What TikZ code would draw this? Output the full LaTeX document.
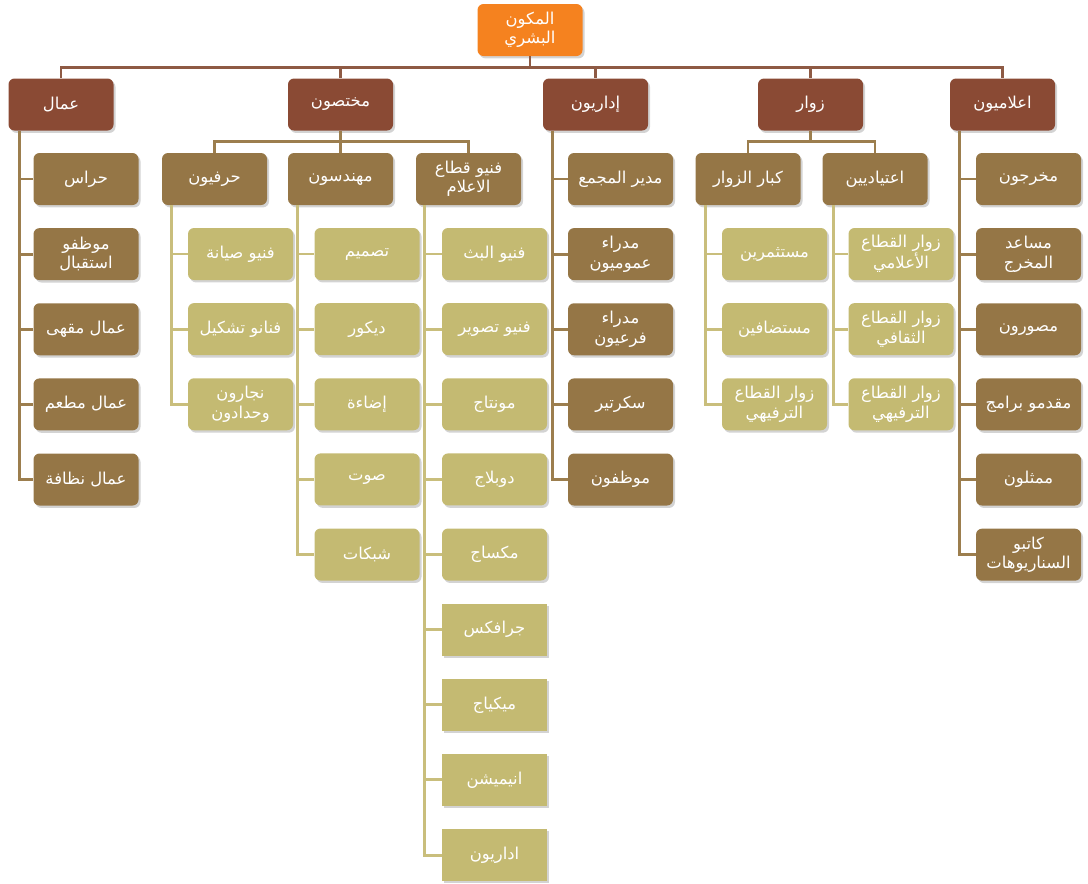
\documentclass[tikz,border=0pt]{standalone}
\usepackage{fontspec}
\newfontfamily\arabicfont[Script=Arabic]{DejaVu Sans}
\TeXXeTstate=1
\usetikzlibrary{
  chains,
  positioning,
  shadows,
}
\newcommand{\AR}[1]{\beginR#1\endR}
\definecolor{toporange}{HTML}{F5821F}
\definecolor{grpbrown}{HTML}{8A4A34}
\definecolor{subbrown}{HTML}{957646}
\definecolor{leafolive}{HTML}{C4BA72}
\definecolor{rootline}{HTML}{8E5A44}
\definecolor{subline}{HTML}{9C7E4E}
\definecolor{leafline}{HTML}{C9BE7C}

\begin{document}
\begin{tikzpicture}[
  x=0.75pt, y=-0.75pt,
  font=\arabicfont\fontsize{12.3}{14.5}\selectfont,
  box/.style={
     rectangle,
     rounded corners=4.5pt,
     text=white,
     align=center,
     inner sep=2pt,
     minimum width=78.75pt,
     minimum height=39pt,
     drop shadow={shadow xshift=1.5pt, shadow yshift=-1.8pt, opacity=0.35},
  },
  topbox/.style={box, fill=toporange},
  grpbox/.style={box, fill=grpbrown},
  subbox/.style={box, fill=subbrown},
  leafbox/.style={box, fill=leafolive},
  flatbox/.style={sharp corners},
  rootln/.style={draw=rootline, line width=2.2pt},
  subln/.style={draw=subline, line width=2.2pt},
  leafln/.style={draw=leafline, line width=2.2pt},
  node distance=16.95pt,
]
   \useasboundingbox (0,0) rectangle (1088,883);

   % root and first level
   \node[topbox] (top) at (530,30) {\AR{المكون}\\\AR{البشري}};
   \node[grpbox] (amal)  at (61,104.5)   {\AR{عمال}};
   \node[grpbox] (mukh)  at (340.5,104.5) {\AR{مختصون}};
   \node[grpbox] (idari) at (595.5,104.5) {\AR{إداريون}};
   \node[grpbox] (zuwar) at (810.5,104.5) {\AR{زوار}};
   \node[grpbox] (ilam)  at (1002.5,104.5) {\AR{اعلاميون}};

   % second level heads
   \node[subbox] (hirafi) at (214.5,179) {\AR{حرفيون}};
   \node[subbox] (muhand) at (340.5,179) {\AR{مهندسون}};
   \node[subbox] (fanni)  at (468.5,179) {\AR{فنيو قطاع}\\\AR{الاعلام}};
   \node[subbox] (kibar)  at (748,179)   {\AR{كبار الزوار}};
   \node[subbox] (itiyad) at (875,179)   {\AR{اعتياديين}};

   % columns
   \begin{scope}[start chain=amalc going below]
   \node[subbox,on chain] (amal1) at (86,179) {\AR{حراس}};
   \node[subbox,on chain] (amal2) {\AR{موظفو}\\\AR{استقبال}};
   \node[subbox,on chain] (amal3) {\AR{عمال مقهى}};
   \node[subbox,on chain] (amal4) {\AR{عمال مطعم}};
   \node[subbox,on chain] (amal5) {\AR{عمال نظافة}};
   \end{scope}

   \begin{scope}[start chain=idaric going below]
   \node[subbox,on chain] (idari1) at (620.5,179) {\AR{مدير المجمع}};
   \node[subbox,on chain] (idari2) {\AR{مدراء}\\\AR{عموميون}};
   \node[subbox,on chain] (idari3) {\AR{مدراء}\\\AR{فرعيون}};
   \node[subbox,on chain] (idari4) {\AR{سكرتير}};
   \node[subbox,on chain] (idari5) {\AR{موظفون}};
   \end{scope}

   \begin{scope}[start chain=ilamc going below]
   \node[subbox,on chain] (ilam1) at (1028.5,179) {\AR{مخرجون}};
   \node[subbox,on chain] (ilam2) {\AR{مساعد}\\\AR{المخرج}};
   \node[subbox,on chain] (ilam3) {\AR{مصورون}};
   \node[subbox,on chain] (ilam4) {\AR{مقدمو برامج}};
   \node[subbox,on chain] (ilam5) {\AR{ممثلون}};
   \node[subbox,on chain] (ilam6) {\AR{كاتبو}\\\AR{السناريوهات}};
   \end{scope}

   \begin{scope}[start chain=hirafic going below]
   \node[leafbox,on chain] (hirafi1) at (240.5,254) {\AR{فنيو صيانة}};
   \node[leafbox,on chain] (hirafi2) {\AR{فنانو تشكيل}};
   \node[leafbox,on chain] (hirafi3) {\AR{نجارون}\\\AR{وحدادون}};
   \end{scope}

   \begin{scope}[start chain=muhandc going below]
   \node[leafbox,on chain] (muhand1) at (367,254) {\AR{تصميم}};
   \node[leafbox,on chain] (muhand2) {\AR{ديكور}};
   \node[leafbox,on chain] (muhand3) {\AR{إضاءة}};
   \node[leafbox,on chain] (muhand4) {\AR{صوت}};
   \node[leafbox,on chain] (muhand5) {\AR{شبكات}};
   \end{scope}

   \begin{scope}[start chain=fannic going below]
   \node[leafbox,on chain] (fanni1) at (494.5,254) {\AR{فنيو البث}};
   \node[leafbox,on chain] (fanni2) {\AR{فنيو تصوير}};
   \node[leafbox,on chain] (fanni3) {\AR{مونتاج}};
   \node[leafbox,on chain] (fanni4) {\AR{دوبلاج}};
   \node[leafbox,on chain] (fanni5) {\AR{مكساج}};
   \node[leafbox,flatbox,on chain] (fanni6) {\AR{جرافكس}};
   \node[leafbox,flatbox,on chain] (fanni7) {\AR{ميكياج}};
   \node[leafbox,flatbox,on chain] (fanni8) {\AR{انيميشن}};
   \node[leafbox,flatbox,on chain] (fanni9) {\AR{اداريون}};
   \end{scope}

   \begin{scope}[start chain=kibarc going below]
   \node[leafbox,on chain] (kibar1) at (774.5,254) {\AR{مستثمرين}};
   \node[leafbox,on chain] (kibar2) {\AR{مستضافين}};
   \node[leafbox,on chain] (kibar3) {\AR{زوار القطاع}\\\AR{الترفيهي}};
   \end{scope}

   \begin{scope}[start chain=itiyadc going below]
   \node[leafbox,on chain] (itiyad1) at (901,254) {\AR{زوار القطاع}\\\AR{الأعلامي}};
   \node[leafbox,on chain] (itiyad2) {\AR{زوار القطاع}\\\AR{الثقافي}};
   \node[leafbox,on chain] (itiyad3) {\AR{زوار القطاع}\\\AR{الترفيهي}};
   \end{scope}

   % buses
   \draw[rootln] (top.south) -- ++(0,11) -| (amal.north)
                 (top.south) -- ++(0,11) -| (mukh.north)
                 (top.south) -- ++(0,11) -| (idari.north)
                 (top.south) -- ++(0,11) -| (zuwar.north)
                 (top.south) -- ++(0,11) -| (ilam.north);
   \draw[subln] (mukh.south) -- ++(0,11) -| (hirafi.north)
                (mukh.south) -- (muhand.north)
                (mukh.south) -- ++(0,11) -| (fanni.north);
   \draw[subln] (zuwar.south) -- ++(0,11) -| (kibar.north)
                (zuwar.south) -- ++(0,11) -| (itiyad.north);

   % side lines
   \path (amal.south west) ++(11,0) coordinate (amalv);
   \path (idari.south west) ++(10,0) coordinate (idariv);
   \path (ilam.south west) ++(10,0) coordinate (ilamv);
   \draw[subln] (amalv) |- (amal1.west) (amalv) |- (amal2.west)
                (amalv) |- (amal3.west) (amalv) |- (amal4.west)
                (amalv) |- (amal5.west);
   \draw[subln] (idariv) |- (idari1.west) (idariv) |- (idari2.west)
                (idariv) |- (idari3.west) (idariv) |- (idari4.west)
                (idariv) |- (idari5.west);
   \draw[subln] (ilamv) |- (ilam1.west) (ilamv) |- (ilam2.west)
                (ilamv) |- (ilam3.west) (ilamv) |- (ilam4.west)
                (ilamv) |- (ilam5.west) (ilamv) |- (ilam6.west);

   \path (hirafi.south west) ++(10,0) coordinate (hirafiv);
   \path (muhand.south west) ++(10,0) coordinate (muhandv);
   \path (fanni.south west) ++(9,0) coordinate (fanniv);
   \path (kibar.south west) ++(10,0) coordinate (kibarv);
   \path (itiyad.south west) ++(11,0) coordinate (itiyadv);
   \draw[leafln] (hirafiv) |- (hirafi1.west) (hirafiv) |- (hirafi2.west)
                 (hirafiv) |- (hirafi3.west);
   \draw[leafln] (muhandv) |- (muhand1.west) (muhandv) |- (muhand2.west)
                 (muhandv) |- (muhand3.west) (muhandv) |- (muhand4.west)
                 (muhandv) |- (muhand5.west);
   \draw[leafln] (fanniv) |- (fanni1.west) (fanniv) |- (fanni2.west)
                 (fanniv) |- (fanni3.west) (fanniv) |- (fanni4.west)
                 (fanniv) |- (fanni5.west) (fanniv) |- (fanni6.west)
                 (fanniv) |- (fanni7.west) (fanniv) |- (fanni8.west)
                 (fanniv) |- (fanni9.west);
   \draw[leafln] (kibarv) |- (kibar1.west) (kibarv) |- (kibar2.west)
                 (kibarv) |- (kibar3.west);
   \draw[leafln] (itiyadv) |- (itiyad1.west) (itiyadv) |- (itiyad2.west)
                 (itiyadv) |- (itiyad3.west);
\end{tikzpicture}
\end{document}
